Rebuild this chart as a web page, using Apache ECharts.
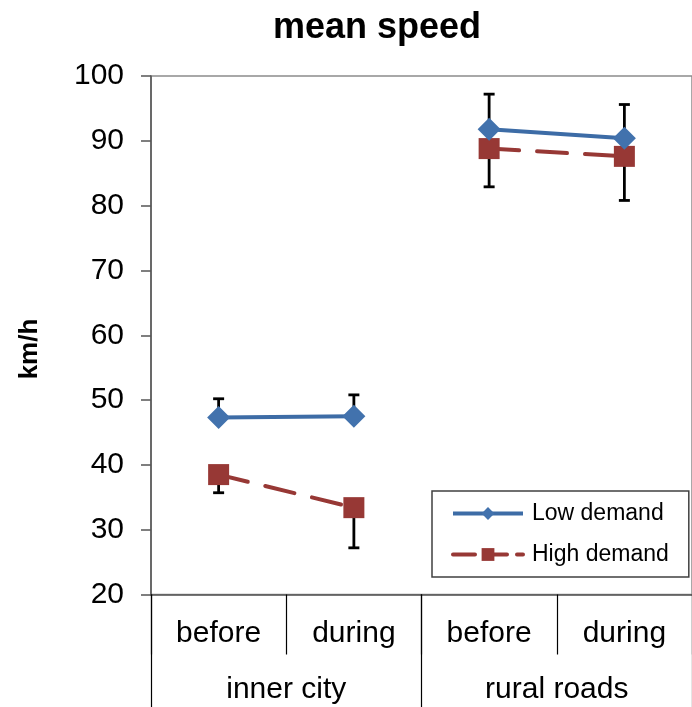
<!DOCTYPE html>
<html>
<head>
<meta charset="utf-8">
<script src="https://cdn.jsdelivr.net/npm/echarts@6/dist/echarts.min.js"></script>
<style>
  html, body { margin: 0; padding: 0; background: #fff; }
  #chart { width: 692px; height: 707px; }
</style>
</head>
<body>
<div id="chart"></div>
<script>
const phases = ['before', 'during', 'before', 'during'];
const groups = ['inner city', 'rural roads'];
const lowDemand = [47.3, 47.5, 91.8, 90.4];
const highDemand = [38.5, 33.4, 88.8, 87.6];
// error bar ends (one-sided, as drawn)
const lowUpper = [50.2, 50.8, 97.2, 95.6];
const highLower = [35.7, 27.2, 82.9, 80.8];

const blue = '#3d6ca6';
const red = '#973835';
const font = 'Liberation Sans, Arial, sans-serif';

function part(values, from, to) {
  return values.map((v, i) => (i >= from && i <= to ? v : '-'));
}

function errData(means, ends) {
  return means.map((m, i) => [i, m, ends[i]]);
}

function renderErr(params, api) {
  const x = api.value(0);
  const p0 = api.coord([x, api.value(1)]);
  const p1 = api.coord([x, api.value(2)]);
  const cap = 5.5;
  const style = { stroke: '#000', lineWidth: 2.8 };
  return {
    type: 'group',
    children: [
      { type: 'line', shape: { x1: p0[0], y1: p0[1], x2: p1[0], y2: p1[1] }, style: style },
      { type: 'line', shape: { x1: p1[0] - cap, y1: p1[1], x2: p1[0] + cap, y2: p1[1] }, style: style }
    ]
  };
}

const chart = echarts.init(document.getElementById('chart'));

const lowStyle = {
  type: 'line',
  name: 'Low demand',
  xAxisIndex: 0,
  symbol: 'diamond',
  symbolSize: 23,
  itemStyle: { color: '#4272ad' },
  lineStyle: { color: blue, width: 4 },
  z: 4
};
const highStyle = {
  type: 'line',
  name: 'High demand',
  xAxisIndex: 0,
  symbol: 'rect',
  symbolSize: 21,
  itemStyle: { color: red },
  lineStyle: { color: red, width: 4, type: [30, 18], cap: 'round' },
  z: 3
};

chart.setOption({
  animation: false,
  textStyle: { fontFamily: font },
  title: {
    text: 'mean speed',
    left: 268,
    top: 5,
    textStyle: { fontSize: 36, fontWeight: 'bold', color: '#000', fontFamily: font }
  },
  grid: {
    left: 151, top: 76, width: 550, height: 518.5,
    show: true, borderColor: '#8c8c8c', borderWidth: 1.5
  },
  legend: {
    orient: 'vertical',
    left: 432,
    top: 491,
    padding: [11, 20, 11, 19],
    itemGap: 18,
    itemWidth: 70,
    itemHeight: 16,
    borderColor: '#404040',
    borderWidth: 1.5,
    backgroundColor: '#fff',
    textStyle: { fontSize: 23, color: '#000', fontFamily: font, padding: [0, 0, 0, 4] },
    data: [
      { name: 'Low demand', lineStyle: { width: 4, color: blue } },
      { name: 'High demand', lineStyle: { width: 4, color: red, type: [22, 10] } }
    ]
  },
  graphic: [{
    type: 'text',
    x: 30,
    y: 349,
    rotation: Math.PI / 2,
    style: {
      text: 'km/h',
      fontSize: 26,
      fontWeight: 'bold',
      fontFamily: font,
      fill: '#000',
      align: 'center',
      verticalAlign: 'middle'
    }
  }],
  xAxis: [
    {
      type: 'category',
      data: phases,
      position: 'bottom',
      axisLine: { show: true, lineStyle: { color: '#555', width: 1.5 } },
      axisTick: { show: true, length: 60, lineStyle: { color: '#000', width: 1.2 } },
      axisLabel: { fontSize: 30, color: '#000', margin: 24, fontFamily: font },
      splitLine: { show: false }
    },
    {
      type: 'category',
      data: groups,
      position: 'bottom',
      axisLine: { show: false },
      axisTick: { show: true, length: 120, lineStyle: { color: '#000', width: 1.2 } },
      axisLabel: { fontSize: 30, color: '#000', margin: 80, fontFamily: font },
      splitLine: { show: false }
    }
  ],
  yAxis: {
    type: 'value',
    min: 20,
    max: 100,
    interval: 10,
    axisLine: { show: true, lineStyle: { color: '#555', width: 1.5 } },
    axisTick: { show: true, length: 10, lineStyle: { color: '#555', width: 1.5 } },
    axisLabel: { fontSize: 30, color: '#000', margin: 27, fontFamily: font },
    splitLine: { show: false }
  },
  series: [
    {
      type: 'custom',
      xAxisIndex: 0,
      renderItem: renderErr,
      data: errData(lowDemand, lowUpper),
      z: 2,
      silent: true
    },
    {
      type: 'custom',
      xAxisIndex: 0,
      renderItem: renderErr,
      data: errData(highDemand, highLower),
      z: 2,
      silent: true
    },
    Object.assign({}, highStyle, { data: part(highDemand, 0, 1) }),
    Object.assign({}, highStyle, { data: part(highDemand, 2, 3) }),
    Object.assign({}, lowStyle, { data: part(lowDemand, 0, 1) }),
    Object.assign({}, lowStyle, { data: part(lowDemand, 2, 3) })
  ]
});
</script>
</body>
</html>
